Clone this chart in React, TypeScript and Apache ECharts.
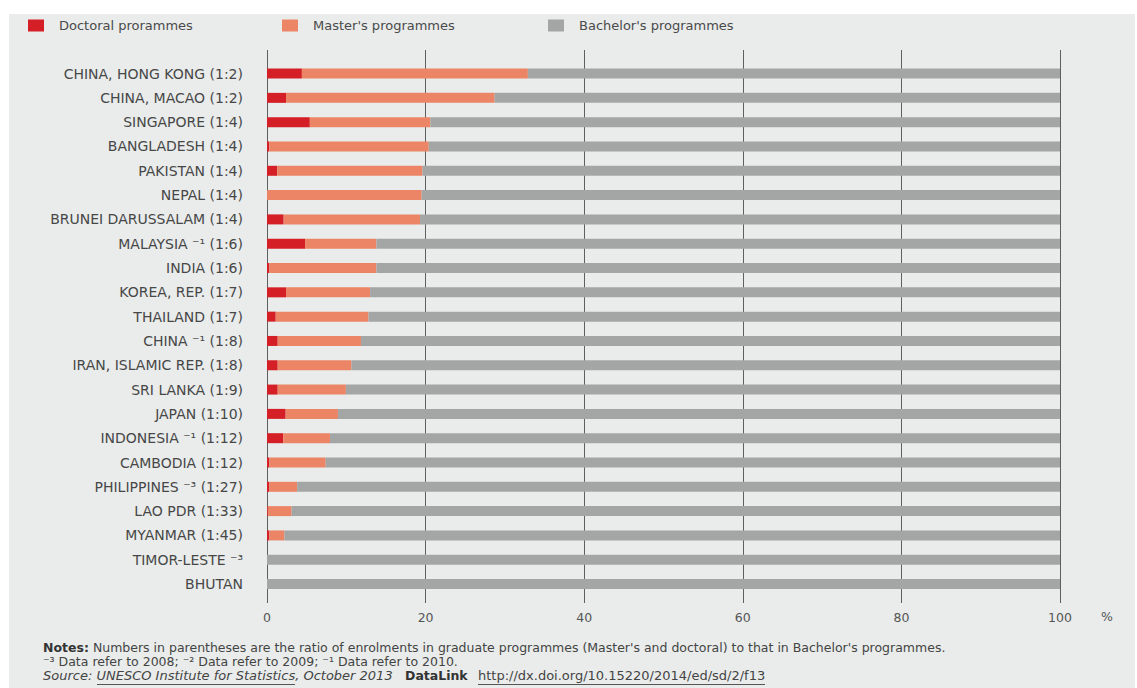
import React, { useEffect, useRef } from "react";
import * as echarts from "echarts";

const categories = [
  "CHINA, HONG KONG (1:2)",
  "CHINA, MACAO (1:2)",
  "SINGAPORE (1:4)",
  "BANGLADESH (1:4)",
  "PAKISTAN (1:4)",
  "NEPAL (1:4)",
  "BRUNEI DARUSSALAM (1:4)",
  "MALAYSIA ⁻¹ (1:6)",
  "INDIA (1:6)",
  "KOREA, REP. (1:7)",
  "THAILAND (1:7)",
  "CHINA ⁻¹ (1:8)",
  "IRAN, ISLAMIC REP. (1:8)",
  "SRI LANKA (1:9)",
  "JAPAN (1:10)",
  "INDONESIA ⁻¹ (1:12)",
  "CAMBODIA (1:12)",
  "PHILIPPINES ⁻³ (1:27)",
  "LAO PDR (1:33)",
  "MYANMAR (1:45)",
  "TIMOR-LESTE ⁻³",
  "BHUTAN",
];

const doctoral = [4.4, 2.4, 5.4, 0.3, 1.3, 0.0, 2.1, 4.8, 0.3, 2.4, 1.1, 1.35, 1.35, 1.35, 2.35, 2.05, 0.3, 0.3, 0.1, 0.3, 0, 0];
const masters = [28.5, 26.3, 15.2, 20.1, 18.3, 19.5, 17.2, 9.0, 13.5, 10.6, 11.7, 10.5, 9.3, 8.6, 6.6, 5.9, 7.1, 3.5, 3.0, 1.9, 0, 0];
const bachelors = [67.1, 71.3, 79.4, 79.6, 80.4, 80.5, 80.7, 86.2, 86.2, 87.0, 87.2, 88.15, 89.35, 90.05, 91.05, 92.05, 92.6, 96.2, 96.9, 97.8, 100, 100];

const seriesNames = ["Doctoral prorammes", "Master's programmes", "Bachelor's programmes"];
const seriesColors = ["#d41f26", "#ec8466", "#a4a6a6"];
const xTicks = [0, 20, 40, 60, 80, 100];

const FONT = "DejaVu Sans";

export default function App() {
  const ref = useRef<HTMLDivElement>(null);
  useEffect(() => {
    if (!ref.current) return;
    const chart = echarts.init(ref.current, null, { renderer: "svg" });
    const legendLefts = [28, 282, 548];
    const option: any = {
      animation: false,
      backgroundColor: "#ffffff",
      textStyle: { fontFamily: FONT },
      legend: seriesNames.map((n, i) => ({
        data: [n],
        left: legendLefts[i],
        top: 19,
        padding: 0,
        icon: "rect",
        itemWidth: 16,
        itemHeight: 12,
        selectedMode: false,
        textStyle: { color: "#4a4a4a", fontSize: 13, fontFamily: FONT, padding: [0, 0, 0, 10] },
      })),
      graphic: [
        { type: "rect", z: -10, silent: true, shape: { x: 9, y: 14, width: 1126, height: 674 }, style: { fill: "#e9eceb" } },
        { type: "text", left: 1101, top: 610, style: { text: "%", font: `12.5px ${FONT}`, fill: "#555" } },
        {
          type: "text",
          left: 43,
          top: 641,
          style: {
            text: "{b|Notes:} Numbers in parentheses are the ratio of enrolments in graduate programmes (Master's and doctoral) to that in Bachelor's programmes.",
            rich: { b: { fontWeight: "bold", fontSize: 12.5, fontFamily: FONT, fill: "#333" } },
            font: `12.5px ${FONT}`,
            fill: "#444",
          },
        },
        {
          type: "text",
          left: 43,
          top: 655,
          style: { text: "⁻³ Data refer to 2008; ⁻² Data refer to 2009; ⁻¹ Data refer to 2010.", font: `12.5px ${FONT}`, fill: "#444" },
        },
        {
          type: "text",
          left: 43,
          top: 669,
          style: { text: "Source: UNESCO Institute for Statistics, October 2013", font: `italic 13px ${FONT}`, fill: "#444" },
        },
        {
          type: "text",
          left: 405,
          top: 669,
          style: { text: "DataLink", font: `bold 12.5px ${FONT}`, fill: "#333" },
        },
        {
          type: "text",
          left: 478,
          top: 669,
          style: { text: "http://dx.doi.org/10.15220/2014/ed/sd/2/f13", font: `13px ${FONT}`, fill: "#444" },
        },
        { type: "line", shape: { x1: 97, y1: 684.5, x2: 295, y2: 684.5 }, style: { stroke: "#555", lineWidth: 1 } },
        { type: "line", shape: { x1: 478, y1: 684.5, x2: 765, y2: 684.5 }, style: { stroke: "#555", lineWidth: 1 } },
      ],
      grid: [
        { left: 267, right: 77, top: 50, bottom: 85 },
        { left: 267, right: 77, top: 61.4, bottom: 91.8 },
      ],
      xAxis: [
        {
          gridIndex: 0,
          type: "value",
          min: xTicks[0],
          max: xTicks[xTicks.length - 1],
          interval: 20,
          axisLine: { show: false },
          axisTick: { show: false },
          splitLine: { show: true, lineStyle: { color: "#5f5f5f", width: 1 } },
          axisLabel: { color: "#555", fontSize: 12.5, fontFamily: FONT, margin: 8 },
        },
        { gridIndex: 1, type: "value", min: 0, max: 100, show: false },
      ],
      yAxis: [
        { gridIndex: 0, type: "value", show: false },
        {
          gridIndex: 1,
          type: "category",
          inverse: true,
          data: categories,
          axisLine: { show: false },
          axisTick: { show: false },
          splitLine: { show: false },
          axisLabel: { color: "#474747", fontSize: 14, fontFamily: FONT, margin: 24 },
        },
      ],
      series: [doctoral, masters, bachelors].map((d, i) => ({
        name: seriesNames[i],
        type: "bar",
        stack: "total",
        xAxisIndex: 1,
        yAxisIndex: 1,
        barWidth: 10,
        itemStyle: { color: seriesColors[i] },
        data: d,
      })),
    };
    chart.setOption(option);
    return () => chart.dispose();
  }, []);
  return <div ref={ref} style={{ position: "fixed", left: 0, top: 0, width: 1137, height: 688 }} />;
}
